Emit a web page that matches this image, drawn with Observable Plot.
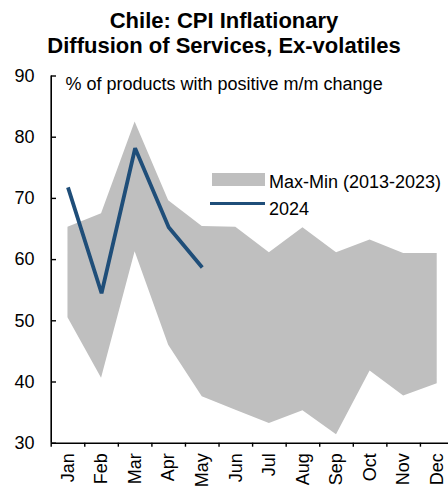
<!DOCTYPE html>
<html><head><meta charset="utf-8">
<script src="https://cdn.jsdelivr.net/npm/d3@7"></script>
<script src="https://cdn.jsdelivr.net/npm/@observablehq/plot@0.6"></script>
<style>
body{margin:0;background:#fff;font-family:"Liberation Sans",Arial,sans-serif;color:#000;}
#wrap{position:relative;width:448px;height:487px;overflow:hidden;}
#title{font-weight:bold;font-size:22px;line-height:25px;text-align:center;padding-top:8px;height:50px;}
.lg{position:absolute;font-size:18px;line-height:18px;white-space:nowrap;}
.sw{position:absolute;}
</style></head><body>
<div id="wrap">
<div id="title">Chile: CPI Inflationary<br>Diffusion of Services, Ex-volatiles</div>
<div id="chart"></div>
<div class="sw" style="left:212px;top:173px;width:53px;height:13px;background:#bfbfbf"></div>
<div class="lg" id="lg1" style="left:269px;top:173px"></div>
<div class="sw" style="left:210px;top:201.5px;width:55px;height:3.6px;background:#1f4e79"></div>
<div class="lg" id="lg2" style="left:269px;top:199.7px"></div>
</div>
<script>
const months = ["Jan","Feb","Mar","Apr","May","Jun","Jul","Aug","Sep","Oct","Nov","Dec"];
const maxVals = [65.3, 67.5, 82.5, 69.6, 65.4, 65.3, 61.1, 65.2, 61.1, 63.2, 61.0, 61.0];
const minVals = [50.5, 40.6, 61.3, 46.0, 37.6, 35.4, 33.2, 35.3, 31.4, 41.8, 37.7, 39.7];
const vals2024 = [71.8, 54.5, 78.2, 65.3, 58.7];
const yTicks = [30, 40, 50, 60, 70, 80, 90];
const subtitle = "% of products with positive m/m change";
const legendBand = "Max-Min (2013-2023)";
const legendLine = "2024";

document.getElementById("lg1").textContent = legendBand;
document.getElementById("lg2").textContent = legendLine;

const band = months.map((m, i) => ({i, min: minVals[i], max: maxVals[i]}));
const line = vals2024.map((v, i) => ({i, v}));

const chart = Plot.plot({
  width: 448, height: 429,
  marginTop: 17.5, marginBottom: 44.3, marginLeft: 51, marginRight: 0,
  style: {fontFamily: "'Liberation Sans', Arial, sans-serif", fontSize: "18px", color: "#000", background: "#fff"},
  x: {type: "linear", domain: [-0.5, 11.5], range: [50.7, 453.5]},
  y: {domain: [30, 90]},
  marks: [
    Plot.areaY(band, {x: "i", y1: "min", y2: "max", fill: "#bfbfbf"}),
    Plot.line(line, {x: "i", y: "v", stroke: "#1f4e79", strokeWidth: 3.8, strokeLinejoin: "miter", strokeLinecap: "butt"}),
    Plot.ruleX([-0.5], {stroke: "#000", strokeWidth: 1.6}),
    Plot.ruleY([30], {stroke: "#000", strokeWidth: 1.6}),
    Plot.axisY({ticks: yTicks, tickSize: -5, tickPadding: 22, tickFormat: d => String(d), label: null, strokeWidth: 1.4}),
    Plot.axisX({ticks: d3.range(13).map(i => i - 0.5), tickSize: 4, tickFormat: () => "", label: null, strokeWidth: 1.4}),
    Plot.axisX({ticks: d3.range(12), tickSize: 0, tickPadding: 10, tickRotate: -90, tickFormat: i => months[i], label: null}),
    Plot.text([subtitle], {text: d => d, frameAnchor: "top-left", textAnchor: "start", lineAnchor: "top", dx: 14, dy: 1})
  ]
});
document.getElementById("chart").appendChild(chart);
</script>
</body></html>
